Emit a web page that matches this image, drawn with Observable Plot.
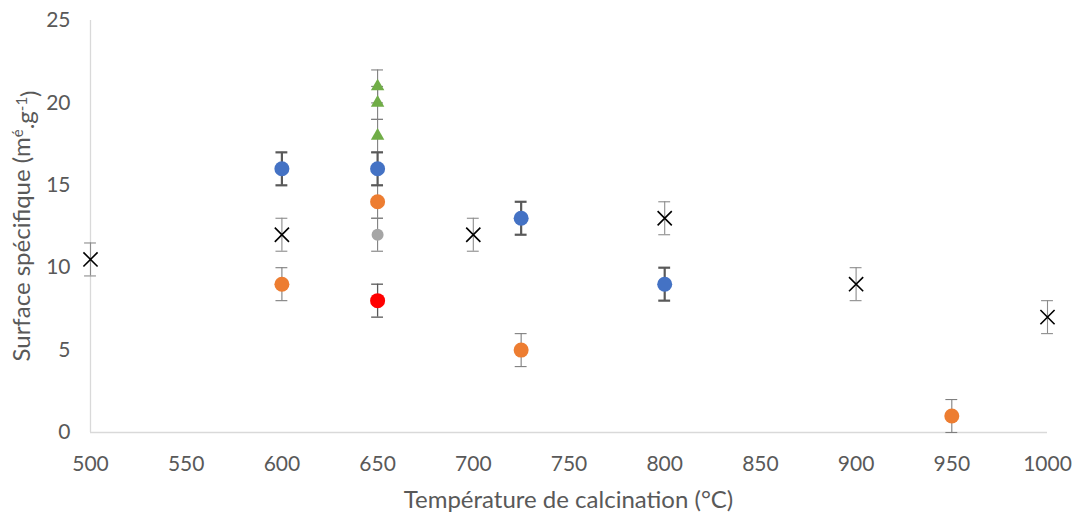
<!DOCTYPE html>
<html>
<head>
<meta charset="utf-8">
<script src="https://cdn.jsdelivr.net/npm/d3@7"></script>
<script src="https://cdn.jsdelivr.net/npm/@observablehq/plot@0.6"></script>
<style>
  html, body { margin: 0; padding: 0; background: #fff; }
  #chart { width: 1078px; height: 517px; }
</style>
</head>
<body>
<div id="chart"></div>
<script>
// Data (temperature °C, surface m²/g, error ±)
const crossX = [500, 600, 700, 800, 900, 1000];
const crossY = [10.5, 12, 12, 13, 9, 7];
const crossErr = [1, 1, 1, 1, 1, 1];

const blueX = [600, 650, 725, 800];
const blueY = [16, 16, 13, 9];
const blueErr = [1, 1, 1, 1];

const orangeX = [600, 650, 725, 950];
const orangeY = [9, 14, 5, 1];
const orangeErr = [1, 1, 1, 1];

const grayX = [650];
const grayY = [12];
const grayErr = [1];

const redX = [650];
const redY = [8];
const redErr = [1];

const greenX = [650, 650, 650];
const greenY = [21, 20, 18];
const greenErr = [1, 1, 1];

const xTicks = [500, 550, 600, 650, 700, 750, 800, 850, 900, 950, 1000];
const yTicks = [0, 5, 10, 15, 20, 25];

const mk = (xs, ys, es) => xs.map((x, i) => ({x, y: ys[i], e: es[i]}));
const cross = mk(crossX, crossY, crossErr);
const blue = mk(blueX, blueY, blueErr);
const orange = mk(orangeX, orangeY, orangeErr);
const gray = mk(grayX, grayY, grayErr);
const red = mk(redX, redY, redErr);
const green = mk(greenX, greenY, greenErr);

const cap = 3.1;
function errMarks(data, color, width) {
  return [
    Plot.ruleX(data, {x: "x", y1: d => d.y - d.e, y2: d => d.y + d.e, stroke: color, strokeWidth: width}),
    Plot.ruleY(data, {y: d => d.y - d.e, x1: d => d.x - cap, x2: d => d.x + cap, stroke: color, strokeWidth: width}),
    Plot.ruleY(data, {y: d => d.y + d.e, x1: d => d.x - cap, x2: d => d.x + cap, stroke: color, strokeWidth: width})
  ];
}

const font = "Lato, 'Open Sans', sans-serif";
const plot = Plot.plot({
  width: 1078,
  height: 517,
  marginLeft: 90,
  marginRight: 31,
  marginTop: 20,
  marginBottom: 85,
  style: {fontFamily: font, fontSize: "21px", color: "#595959", background: "#fff"},
  x: {domain: [500, 1000], ticks: xTicks, tickFormat: d => String(d), tickSize: 0, tickPadding: 24, label: null},
  y: {domain: [0, 25], ticks: yTicks, tickFormat: d => String(d), tickSize: 0, tickPadding: 20, label: null},
  marks: [
    Plot.ruleX([500], {stroke: "#d9d9d9", strokeWidth: 1.3}),
    Plot.ruleY([0], {stroke: "#d9d9d9", strokeWidth: 1.3}),
    ...errMarks(cross, "#8c8c8c", 1.1),
    ...errMarks(orange, "#7f7f7f", 1.1),
    ...errMarks(gray, "#7f7f7f", 1.1),
    ...errMarks(green, "#7f7f7f", 1.1),
    ...errMarks(red, "#595959", 1.3),
    ...errMarks(blue, "#595959", 2.2),
    Plot.dot(cross, {x: "x", y: "y", symbol: "times", r: 6.5, stroke: "#000", strokeWidth: 1.6}),
    Plot.dot(blue, {x: "x", y: "y", symbol: "circle", r: 7.5, fill: "#4472c4"}),
    Plot.dot(orange, {x: "x", y: "y", symbol: "circle", r: 7.5, fill: "#ed7d31"}),
    Plot.dot(gray, {x: "x", y: "y", symbol: "circle", r: 6, fill: "#a5a5a5"}),
    Plot.dot(red, {x: "x", y: "y", symbol: "circle", r: 7.5, fill: "#ff0000"}),
    Plot.dot(green, {x: "x", y: "y", symbol: "triangle", r: 5, fill: "#70ad47"})
  ]
});
document.getElementById("chart").appendChild(plot);

const svg = d3.select(plot);
svg.append("text")
  .attr("x", (90 + 1047) / 2)
  .attr("y", 508)
  .attr("text-anchor", "middle")
  .attr("fill", "#595959")
  .style("font-family", font)
  .style("font-size", "24px")
  .text("Température de calcination (°C)");

const yl = svg.append("text")
  .attr("transform", `translate(30, ${(20 + 432) / 2}) rotate(-90)`)
  .attr("text-anchor", "middle")
  .attr("fill", "#595959")
  .style("font-family", font)
  .style("font-size", "24px");
yl.append("tspan").text("Surface spécifique (m");
yl.append("tspan").attr("dy", "-0.45em").style("font-size", "15px").text("é");
yl.append("tspan").attr("dy", "0.45em").text(".g");
yl.append("tspan").attr("dy", "-0.45em").style("font-size", "15px").text("-1");
yl.append("tspan").attr("dy", "0.45em").text(")");
</script>
</body>
</html>
